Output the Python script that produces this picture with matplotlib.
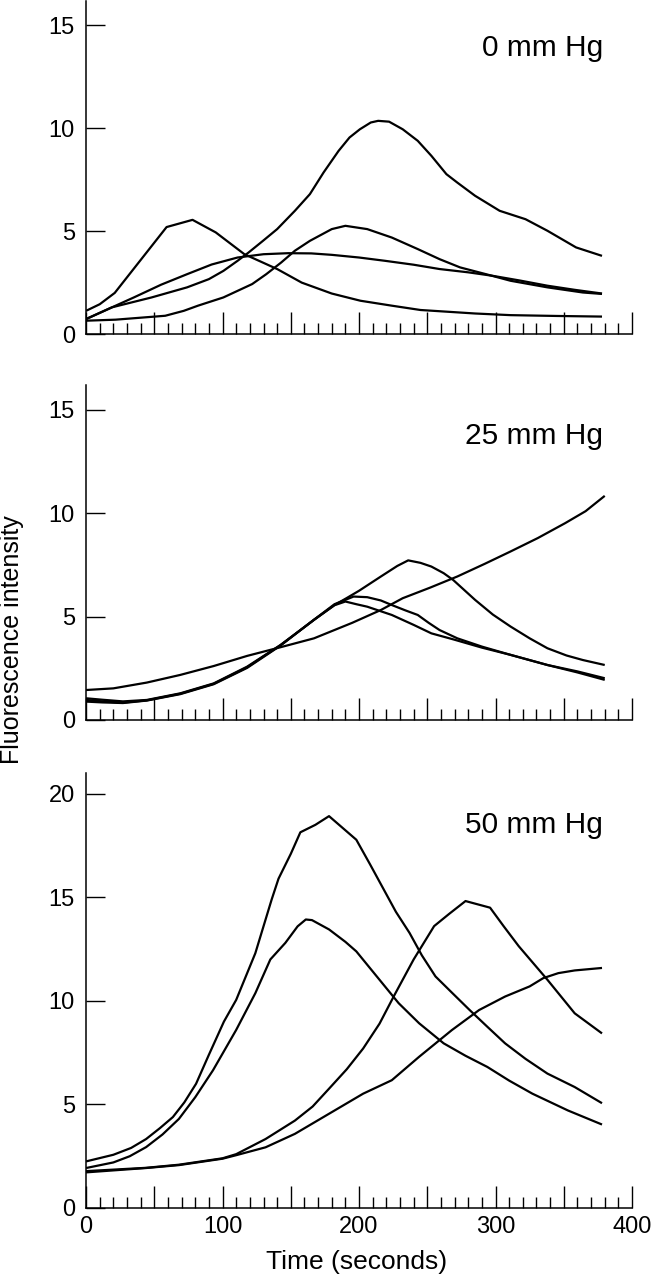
import matplotlib
matplotlib.use("Agg")
import matplotlib.pyplot as plt
from matplotlib.ticker import MultipleLocator, FuncFormatter

plt.rcParams['font.family'] = ['Liberation Sans', 'DejaVu Sans']

# ---------------- data (time in s, fluorescence intensity) ----------------
# 0 mm Hg
p0_a_t = [0, 10, 21, 40, 59, 78, 95, 116, 140, 158, 180, 201, 224, 245, 285, 311, 345, 378]
p0_a_y = [1.13, 1.45, 2.0, 3.6, 5.2, 5.55, 4.94, 3.88, 3.16, 2.5, 1.97, 1.62, 1.38, 1.17, 1.0, 0.92, 0.88, 0.85]

p0_b_t = [0, 19, 48, 74, 90, 100.6, 111, 119, 129.6, 140, 153, 164, 174, 185, 193, 200.6, 208.6, 214, 222, 232,
          243, 253, 264, 272, 285, 303, 322, 338, 359, 378]
p0_b_y = [0.73, 1.3, 1.78, 2.27, 2.67, 3.07, 3.56, 3.96, 4.53, 5.1, 5.99, 6.8, 7.85, 8.9, 9.55, 9.95, 10.28, 10.36, 10.32, 9.95,
          9.39, 8.66, 7.77, 7.36, 6.72, 5.99, 5.58, 5.02, 4.21, 3.8]

p0_c_t = [0, 21.6, 58, 71.6, 82, 100.6, 121.7, 132, 143, 153, 164, 180, 190, 206, 224, 243, 259, 274, 293, 311, 338, 364, 378]
p0_c_y = [0.65, 0.7, 0.89, 1.13, 1.38, 1.78, 2.43, 2.91, 3.48, 4.05, 4.53, 5.1, 5.26, 5.1, 4.69, 4.13, 3.64, 3.24, 2.91, 2.59, 2.27, 2.02, 1.95]

p0_d_t = [0, 35, 55, 74, 92, 111, 130, 148, 165, 180, 200, 219, 240, 259, 280, 298, 318, 338, 358, 378]
p0_d_y = [0.73, 1.78, 2.4, 2.91, 3.38, 3.72, 3.88, 3.93, 3.92, 3.85, 3.72, 3.56, 3.37, 3.16, 3.0, 2.83, 2.6, 2.35, 2.15, 1.97]

# 25 mm Hg
p25_e_t = [0, 20, 44.5, 69, 93.5, 118, 142.5, 167, 195, 216, 232, 252, 272, 292, 311, 331, 351, 366, 380]
p25_e_y = [1.45, 1.53, 1.81, 2.18, 2.61, 3.1, 3.52, 3.95, 4.7, 5.32, 5.89, 6.4, 6.94, 7.55, 8.15, 8.8, 9.52, 10.1, 10.84]

p25_f_t = [0, 12, 27, 44.5, 69, 93.5, 118, 142.5, 167, 182, 191, 200, 216, 228, 236, 245, 253, 262, 269, 285, 298, 311,
           325, 338, 352, 364, 380]
p25_f_y = [1.05, 0.98, 0.9, 0.97, 1.29, 1.77, 2.58, 3.63, 4.84, 5.56, 5.9, 6.25, 6.94, 7.45, 7.72, 7.6, 7.42, 7.1, 6.77,
           5.81, 5.1, 4.52, 3.95, 3.47, 3.12, 2.9, 2.66]

p25_g_t = [0, 12, 27, 44.5, 69, 93.5, 118, 142.5, 167, 182, 196, 206, 216, 224, 234, 243, 251, 259, 272, 290, 311, 338, 360, 380]
p25_g_y = [0.97, 0.9, 0.84, 0.95, 1.27, 1.75, 2.55, 3.62, 4.85, 5.6, 5.97, 5.94, 5.78, 5.56, 5.3, 5.08, 4.7, 4.35, 3.95, 3.55,
           3.15, 2.66, 2.3, 1.94]

p25_h_t = [0, 12, 27, 44.5, 69, 93.5, 118, 142.5, 167, 182, 190, 198, 206, 224, 240, 253, 269, 290, 311, 338, 360, 380]
p25_h_y = [0.89, 0.85, 0.82, 0.94, 1.25, 1.73, 2.52, 3.6, 4.85, 5.55, 5.73, 5.6, 5.48, 5.08, 4.6, 4.19, 3.9, 3.5, 3.15, 2.66,
           2.35, 2.02]

# 50 mm Hg
p50_i_t = [0, 20, 33, 44, 54, 63.6, 72, 80.6, 90, 101, 110, 124, 136, 141, 150, 157, 168, 178, 188, 198, 208, 218, 227,
           237, 246, 256, 268, 281, 294, 307, 322, 338, 358, 378]
p50_i_y = [2.25, 2.57, 2.9, 3.33, 3.85, 4.39, 5.1, 6.0, 7.4, 9.0, 10.05, 12.3, 14.9, 15.9, 17.1, 18.14, 18.5, 18.92, 18.35,
           17.78, 16.6, 15.39, 14.3, 13.28, 12.2, 11.18, 10.4, 9.56, 8.75, 7.95, 7.2, 6.49, 5.84, 5.06]

p50_j_t = [0, 20, 32, 44, 56, 68, 80, 93, 110, 124, 135, 146, 155, 161, 165.5, 178, 190, 198, 213, 229, 244, 262, 278,
           294, 310, 327, 353, 378]
p50_j_y = [1.93, 2.2, 2.5, 2.94, 3.55, 4.3, 5.35, 6.65, 8.6, 10.37, 12.0, 12.8, 13.6, 13.93, 13.9, 13.45, 12.85, 12.39,
           11.18, 9.89, 8.92, 7.95, 7.35, 6.81, 6.15, 5.52, 4.71, 4.03]

p50_k_t = [0, 44, 68, 100, 110, 131.5, 153, 166, 178, 191, 203, 215, 226, 240, 255, 266, 278, 296, 306, 317, 338, 358, 378]
p50_k_y = [1.78, 1.94, 2.09, 2.4, 2.6, 3.33, 4.22, 4.9, 5.76, 6.7, 7.7, 8.9, 10.29, 12.0, 13.61, 14.2, 14.82, 14.5, 13.6,
           12.64, 11.02, 9.4, 8.43]

p50_l_t = [0, 44, 68, 100, 110, 131.5, 153, 178, 203, 224, 244, 268, 288, 307, 325, 335, 346, 358, 378]
p50_l_y = [1.72, 1.93, 2.07, 2.38, 2.55, 2.93, 3.58, 4.55, 5.52, 6.17, 7.3, 8.59, 9.56, 10.21, 10.7, 11.1, 11.34, 11.47, 11.59]

panel_labels = ['0 mm Hg', '25 mm Hg', '50 mm Hg']
x_ticks_labelled = [0, 100, 200, 300, 400]

# ---------------- figure ----------------
fig = plt.figure(figsize=(6.57, 12.8), dpi=100)
L, W = 0.131, 0.831
ax0 = fig.add_axes([L, 0.739, W, 0.2605])
ax1 = fig.add_axes([L, 0.4375, W, 0.2617])
ax2 = fig.add_axes([L, 0.05625, W, 0.3398])

panels = [
    (ax0, [(p0_a_t, p0_a_y), (p0_b_t, p0_b_y), (p0_c_t, p0_c_y), (p0_d_t, p0_d_y)], 16.2, [0, 5, 10, 15], 13.9),
    (ax1, [(p25_e_t, p25_e_y), (p25_f_t, p25_f_y), (p25_g_t, p25_g_y), (p25_h_t, p25_h_y)], 16.2, [0, 5, 10, 15], 13.75),
    (ax2, [(p50_i_t, p50_i_y), (p50_j_t, p50_j_y), (p50_k_t, p50_k_y), (p50_l_t, p50_l_y)], 21.0, [0, 5, 10, 15, 20], 18.5),
]

for i, (ax, series, ytop, yt, lab_y) in enumerate(panels):
    for t, y in series:
        ax.plot(t, y, color='black', lw=1.6, solid_joinstyle='round', solid_capstyle='butt')
    ax.set_xlim(0, 400)
    ax.set_ylim(0, ytop)
    for s in ['top', 'right']:
        ax.spines[s].set_visible(False)
    for s in ['left', 'bottom']:
        ax.spines[s].set_linewidth(1.1)
    ax.xaxis.set_major_locator(MultipleLocator(50))
    ax.xaxis.set_minor_locator(MultipleLocator(10))
    ax.set_yticks(yt)
    ax.tick_params(axis='x', which='major', direction='in', length=16, width=1.0, labelsize=17, pad=6)
    ax.tick_params(axis='x', which='minor', direction='in', length=8, width=1.0)
    ax.tick_params(axis='y', which='major', direction='in', length=14, width=1.0, labelsize=17, pad=8)
    if i < 2:
        ax.tick_params(axis='x', which='major', labelbottom=False)
    else:
        ax.xaxis.set_major_formatter(FuncFormatter(
            lambda v, p: f"{int(v)}" if int(round(v)) in x_ticks_labelled else ""))
    ax.text(379, lab_y, panel_labels[i], ha='right', va='center', fontsize=21.5)

fig.text(0.018, 0.5, 'Fluorescence intensity', rotation=90, ha='center', va='center', fontsize=18)
fig.text(0.542, 0.014, 'Time (seconds)', ha='center', va='center', fontsize=19)

fig.savefig('out.png', dpi=100)
